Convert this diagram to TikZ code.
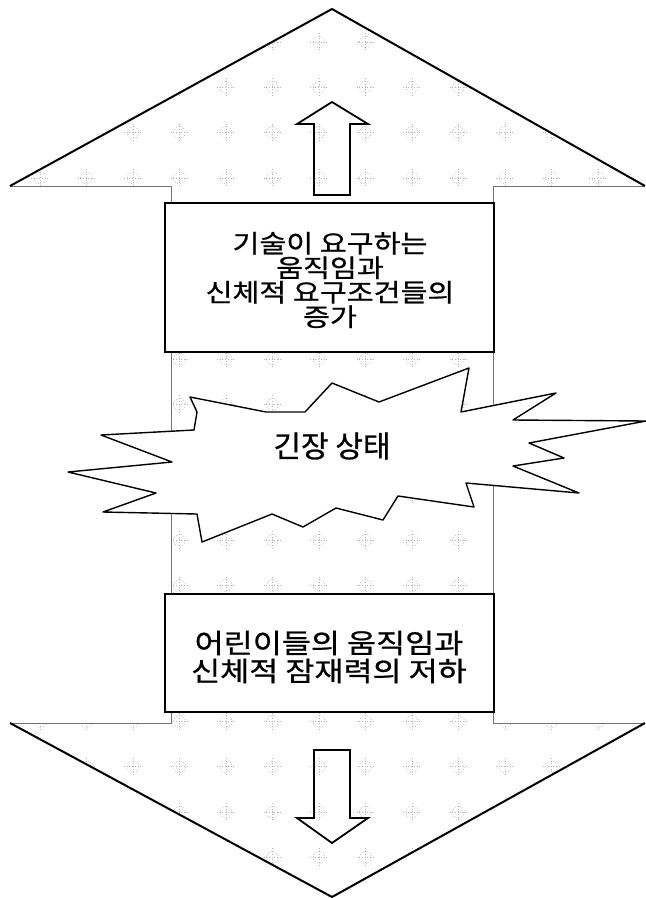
\documentclass[tikz,border=0pt]{standalone}
\usepackage{fontspec}
\newfontfamily\kr[FakeBold=0.8]{Noto Sans CJK KR}
\newfontfamily\krw[FakeStretch=1.17,FakeBold=0.8]{Noto Sans CJK KR}
\tikzset{
  edgethick/.style={line width=2pt, black, line join=round},
  edgethin/.style={line width=0.9pt, black!55},
  innerarrow/.style={line width=1.8pt, black, line join=miter},
  textbox/.style={draw=black, line width=1.1pt, fill=white},
  boxshade/.style={line width=2.6pt, black},
  burst/.style={draw=black, line width=1.4pt, fill=white, line join=round},
  speck/.style={gray!60, line width=0.7pt},
}
\begin{document}
\begin{tikzpicture}[x=1pt,y=-1pt]
\useasboundingbox (0,0) rectangle (646,898);
% outer double arrow outline coordinates
\coordinate (tl) at (10,186);
\coordinate (ta) at (332,9);
\coordinate (tr) at (645,186);
\coordinate (sl1) at (171,186);
\coordinate (sr1) at (493,186);
\coordinate (sl2) at (171,723);
\coordinate (sr2) at (493,723);
\coordinate (bl) at (10,723);
\coordinate (br) at (645,723);
\coordinate (ba) at (332,897);
% speckle pattern
\begin{scope}
\clip (tl) -- (ta) -- (tr) -- (sr1) -- (sr2) -- (br) -- (ba) -- (bl) -- (sl2) -- (sl1) -- cycle;
\foreach \i in {0,...,13}{
  \foreach \j in {0,...,19}{
    \pgfmathsetmacro{\px}{40+46.5*\i}
    \pgfmathsetmacro{\py}{42+45.3*\j}
    \draw[speck, dotted] (\px,\py) circle (6);
    \draw[speck, dotted] (\px-9,\py) -- (\px+9,\py);
    \draw[speck, dotted] (\px,\py-9) -- (\px,\py+9);
  }
}
\end{scope}
% thin edges
\draw[edgethin] (tl) -- (sl1) -- (sl2) -- (bl);
\draw[edgethin] (tr) -- (sr1) -- (sr2) -- (br);
% thick slanted edges
\draw[edgethick] (tl) -- (ta) -- (tr);
\draw[edgethick] (bl) -- (ba) -- (br);
% inner arrows
\draw[innerarrow] (314,195) -- (314,124) -- (297,124) -- (332,102) -- (368,124) -- (350,124) -- (350,195) -- cycle;
\draw[innerarrow] (314,750) -- (314,818) -- (297,818) -- (332,843) -- (368,818) -- (350,818) -- (350,750) -- cycle;
% upper box
\draw[textbox] (165,203) rectangle (494,352);
\draw[boxshade] (165,203) -- (165,352) -- (494,352);
\node[align=center, font={\krw\fontsize{25}{24.5}\selectfont}] (up) at (330,280)
  {기술이 요구하는\\움직임과\\신체적 요구조건들의\\증가};
% lower box
\draw[textbox] (165,594) rectangle (494,712);
\draw[boxshade] (165,594) -- (165,712) -- (494,712);
\node[align=center, font={\krw\fontsize{27}{28}\selectfont}] (down) at (329,657)
  {어린이들의 움직임과\\신체적 잠재력의 저하};
% burst
\draw[burst] (190,397) -- (266,412) -- (305,412) -- (332,383) -- (379,402) -- (469,368)
  -- (461,412) -- (556,393) -- (513,420) -- (646,421) -- (529,443) -- (564,458)
  -- (513,466) -- (579,493) -- (466,483) -- (474,507) -- (398,496) -- (383,520)
  -- (336,508) -- (303,527) -- (272,514) -- (202,542) -- (197,514) -- (103,512)
  -- (156,493) -- (68,472) -- (172,462) -- (101,435) -- (194,430) -- (197,412) -- cycle;
\node[font={\kr\fontsize{30}{32}\selectfont}] (tension) at (332,446) {긴장 상태};
\end{tikzpicture}
\end{document}
